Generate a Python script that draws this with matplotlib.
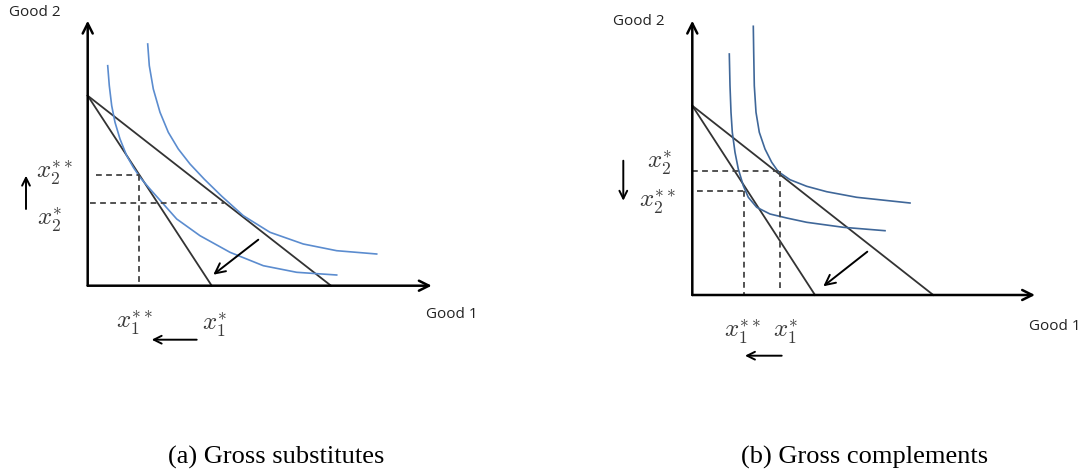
import matplotlib
matplotlib.use("Agg")
import matplotlib.pyplot as plt

plt.rcParams['mathtext.fontset'] = 'cm'

W, H = 1086, 477

# panel origins in pixels (x from left, y from top)
origin_a = (87.7, 286.7)
origin_b = (692.3, 296.0)

# ---- panel (a) gross substitutes, local units ----
a_y_top = 265
a_x_end = 344
a_income = 190          # y-intercept shared by both budget lines
a_x_int_new = 124       # steep line (after price rise)
a_x_int_old = 243.3     # flat line (before)
a_ic_inner_x = [20, 21.6, 24, 27.3, 32.3, 39, 45.6, 52.3, 62.3, 70.6, 89, 112.3, 142.3, 175.6, 209, 249]
a_ic_inner_y = [220, 200, 180, 163.4, 146.7, 130, 118.4, 108.4, 96.7, 87.4, 66.7, 50, 33.4, 20, 13.4, 10.7]
a_ic_outer_x = [60, 61.6, 65.6, 72.3, 80.6, 90.6, 102.3, 116.6, 134, 155.6, 182.3, 215.6, 249, 289]
a_ic_outer_y = [241.7, 220, 196.7, 173.4, 153.4, 136.7, 121.7, 106.5, 89.5, 70, 53.4, 41.7, 35, 31.7]
a_x1_new, a_x2_new = 51.2, 110.8
a_x1_old, a_x2_old = 136, 82.7

# ---- panel (b) gross complements ----
b_y_top = 274.3
b_x_end = 342.7
b_income = 189.3
b_x_int_new = 122.7
b_x_int_old = 241
b_ic_inner_x = [37, 37.7, 38.7, 40, 42.7, 46, 51, 56, 64.4, 77.7, 94.4, 114.4, 151, 192.7]
b_ic_inner_y = [241, 209.3, 182.7, 162.7, 142.7, 126, 109.3, 97.7, 87.7, 81, 77, 72.7, 67.7, 64.3]
b_ic_outer_x = [61, 61.4, 62, 63.7, 67, 72.7, 79.4, 86, 97.7, 114.4, 134.4, 164.4, 217.7]
b_ic_outer_y = [268.7, 242.7, 209.3, 182.7, 162.7, 146, 132.7, 123.3, 115.3, 108.7, 103.3, 97.7, 92]
b_x1_new, b_x2_new = 51.7, 103.7
b_x1_old, b_x2_old = 87.7, 123.7

fig = plt.figure(figsize=(W / 100, H / 100), dpi=100)

def panel(origin):
    ox, oy = origin
    ax = fig.add_axes([0, 0, 1, 1])
    ax.set_xlim(-ox, W - ox)
    ax.set_ylim(-(H - oy), oy)
    ax.axis('off')
    ax.patch.set_alpha(0)
    return ax

def arrow(ax, start, end, lw=1.3, ms=14):
    ax.annotate('', xy=end, xytext=start,
                arrowprops=dict(arrowstyle='->', lw=lw, color='black',
                                mutation_scale=ms, shrinkA=0, shrinkB=0))

good_font = dict(family='Open Sans', fontsize=11, color='#222222')
math_kw = dict(fontsize=18, color='#3a3a3a', ha='center', va='center')
cap_kw = dict(family='Liberation Serif', fontsize=19, ha='center', va='center')
dash_kw = dict(color='#444444', lw=1.3, ls=(0, (3.2, 2.4)))
curve_kw = dict(lw=1.2, solid_joinstyle='round')

# ================= (a) =================
ax = panel(origin_a)
arrow(ax, (0, 0), (0, a_y_top), lw=1.8, ms=18)
arrow(ax, (0, 0), (a_x_end, 0), lw=1.8, ms=18)
ax.plot([0, a_x_int_new], [a_income, 0], color='#333333', lw=1.3)
ax.plot([0, a_x_int_old], [a_income, 0], color='#333333', lw=1.3)
ax.plot(a_ic_inner_x, a_ic_inner_y, color='#5b8ccf', **curve_kw)
ax.plot(a_ic_outer_x, a_ic_outer_y, color='#5b8ccf', **curve_kw)
ax.plot([8, a_x1_new], [a_x2_new, a_x2_new], **dash_kw)
ax.plot([a_x1_new, a_x1_new], [a_x2_new, 0], **dash_kw)
ax.plot([2, a_x1_old], [a_x2_old, a_x2_old], **dash_kw)
arrow(ax, (170.6, 46), (125.6, 11), lw=1.4, ms=18)
arrow(ax, (-61.7, 76.7), (-61.7, 110), lw=1.4, ms=14)
arrow(ax, (109, -54), (64, -54), lw=1.4, ms=14)
ax.text(-32.7, 113.7, r'$x_2^{**}$', **math_kw)
ax.text(-37.7, 66.7, r'$x_2^{*}$', **math_kw)
ax.text(47.3, -36.3, r'$x_1^{**}$', **math_kw)
ax.text(127.3, -38.3, r'$x_1^{*}$', **math_kw)
ax.text(-52.7, 273.7, 'Good 2', ha='center', va='center', **good_font)
ax.text(364, -28.3, 'Good 1', ha='center', va='center', **good_font)
ax.text(188.3, -170.3, '(a) Gross substitutes', **cap_kw)

# ================= (b) =================
ax = panel(origin_b)
arrow(ax, (0, 0), (0, b_y_top), lw=1.8, ms=18)
arrow(ax, (0, 0), (b_x_end, 0), lw=1.8, ms=18)
ax.plot([0, b_x_int_new], [b_income, 0], color='#333333', lw=1.3)
ax.plot([0, b_x_int_old], [b_income, 0], color='#333333', lw=1.3)
ax.plot(b_ic_inner_x, b_ic_inner_y, color='#3f6799', **curve_kw)
ax.plot(b_ic_outer_x, b_ic_outer_y, color='#3f6799', **curve_kw)
ax.plot([0, b_x1_old], [b_x2_old, b_x2_old], **dash_kw)
ax.plot([b_x1_old, b_x1_old], [b_x2_old, 6], **dash_kw)
ax.plot([4.3, b_x1_new], [b_x2_new, b_x2_new], **dash_kw)
ax.plot([b_x1_new, b_x1_new], [b_x2_new, 0], **dash_kw)
arrow(ax, (175, 43.3), (131, 8.7), lw=1.4, ms=18)
arrow(ax, (-69, 134.3), (-69, 94.3), lw=1.4, ms=14)
arrow(ax, (89.4, -60.7), (52.7, -60.7), lw=1.4, ms=14)
ax.text(-32.3, 133, r'$x_2^{*}$', **math_kw)
ax.text(-34.3, 94.3, r'$x_2^{**}$', **math_kw)
ax.text(50.4, -35.7, r'$x_1^{**}$', **math_kw)
ax.text(93.7, -35.7, r'$x_1^{*}$', **math_kw)
ax.text(-53, 274.3, 'Good 2', ha='center', va='center', **good_font)
ax.text(362.7, -30.7, 'Good 1', ha='center', va='center', **good_font)
ax.text(172.7, -161, '(b) Gross complements', **cap_kw)

fig.savefig('out.png', dpi=100, facecolor='white')
